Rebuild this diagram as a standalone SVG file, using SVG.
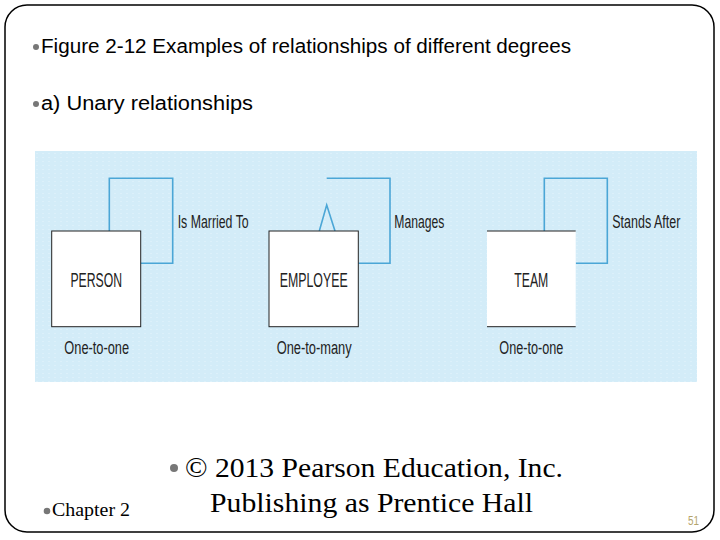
<svg xmlns="http://www.w3.org/2000/svg" width="720" height="540" viewBox="0 0 720 540">
<style>
.hdr{font-family:"Liberation Sans",Arial,sans-serif;font-size:20px;fill:#000}
.ft{font-family:"Liberation Serif","Times New Roman",serif;fill:#000}
.cond{font-family:"Liberation Sans Narrow","Liberation Sans",Arial,sans-serif;fill:#222}
.ent{fill:#fff;stroke:#222;stroke-width:1}
.rel{fill:none;stroke:#4ba6d6;stroke-width:1.6}
.bul{fill:#777}
</style>
<defs>
<pattern id="dots" width="6" height="4" patternUnits="userSpaceOnUse">
<rect width="6" height="4" fill="#d3ecf8"/>
<rect x="0" y="1" width="2" height="1" fill="#dcf0fa"/>
</pattern>
</defs>
<rect x="0" y="0" width="720" height="540" fill="#fff"/>
<rect x="5" y="5" width="709" height="527" rx="22" ry="22" fill="none" stroke="#000" stroke-width="1.5"/>

<g id="header">
<circle class="bul" cx="36" cy="47" r="3"/>
<text class="hdr" x="41" y="53" textLength="530" lengthAdjust="spacingAndGlyphs">Figure 2-12 Examples of relationships of different degrees</text>
<circle class="bul" cx="36" cy="104" r="3"/>
<text class="hdr" x="41" y="110" textLength="212" lengthAdjust="spacingAndGlyphs">a) Unary relationships</text>
</g>

<rect id="panel" x="35" y="151" width="662" height="231" fill="url(#dots)"/>

<g id="connectors">
<polyline class="rel" points="109.3,231 109.3,178.3 172.7,178.3 172.7,263.3 140.7,263.3"/>
<polyline class="rel" points="326.7,178.3 390,178.3 390,263.3 358.3,263.3"/>
<polyline class="rel" stroke-width="1" points="319.3,231 326.7,205 335,231"/>
<polyline class="rel" points="544.3,231 544.3,178.3 607.3,178.3 607.3,263.3 575.7,263.3"/>
<text class="cond" x="177.7" y="228" font-size="17.5" textLength="71" lengthAdjust="spacingAndGlyphs">Is Married To</text>
<text class="cond" x="394.3" y="228" font-size="17.5" textLength="50" lengthAdjust="spacingAndGlyphs">Manages</text>
<text class="cond" x="612.3" y="228" font-size="17.5" textLength="68" lengthAdjust="spacingAndGlyphs">Stands After</text>
</g>

<g id="person">
<rect class="ent" x="51.7" y="231" width="89" height="95.7"/>
<text class="cond" x="96.2" y="287" font-size="20" text-anchor="middle" textLength="51.6" lengthAdjust="spacingAndGlyphs">PERSON</text>
<text class="cond" x="96.7" y="354" font-size="18" text-anchor="middle" textLength="64.7" lengthAdjust="spacingAndGlyphs">One-to-one</text>
</g>

<g id="employee">
<rect class="ent" x="269" y="231" width="89.3" height="95.7"/>
<text class="cond" x="313.7" y="287" font-size="20" text-anchor="middle" textLength="68" lengthAdjust="spacingAndGlyphs">EMPLOYEE</text>
<text class="cond" x="314.2" y="354" font-size="18" text-anchor="middle" textLength="75" lengthAdjust="spacingAndGlyphs">One-to-many</text>
</g>

<g id="team">
<rect x="487" y="231" width="88.7" height="95.7" fill="#fff"/>
<line x1="487" y1="231" x2="575.7" y2="231" stroke="#222" stroke-width="1"/>
<line x1="487" y1="326.7" x2="575.7" y2="326.7" stroke="#222" stroke-width="1"/>
<text class="cond" x="531.3" y="287" font-size="20" text-anchor="middle" textLength="34" lengthAdjust="spacingAndGlyphs">TEAM</text>
<text class="cond" x="531.3" y="354" font-size="18" text-anchor="middle" textLength="64" lengthAdjust="spacingAndGlyphs">One-to-one</text>
</g>

<g id="footer">
<circle class="bul" cx="174" cy="468" r="4"/>
<text class="ft" x="185" y="477" font-size="27.5" textLength="378" lengthAdjust="spacingAndGlyphs">© 2013 Pearson Education, Inc.</text>
<text class="ft" x="210" y="512" font-size="27.5" textLength="323" lengthAdjust="spacingAndGlyphs">Publishing as Prentice Hall</text>
<circle class="bul" cx="47" cy="511" r="3.3"/>
<text class="ft" x="52" y="516" font-size="18.5" textLength="78" lengthAdjust="spacingAndGlyphs">Chapter 2</text>
<text x="688" y="525" font-family="Liberation Sans,Arial,sans-serif" font-size="12" fill="#b4a46c" textLength="11" lengthAdjust="spacingAndGlyphs">51</text>
</g>
</svg>
